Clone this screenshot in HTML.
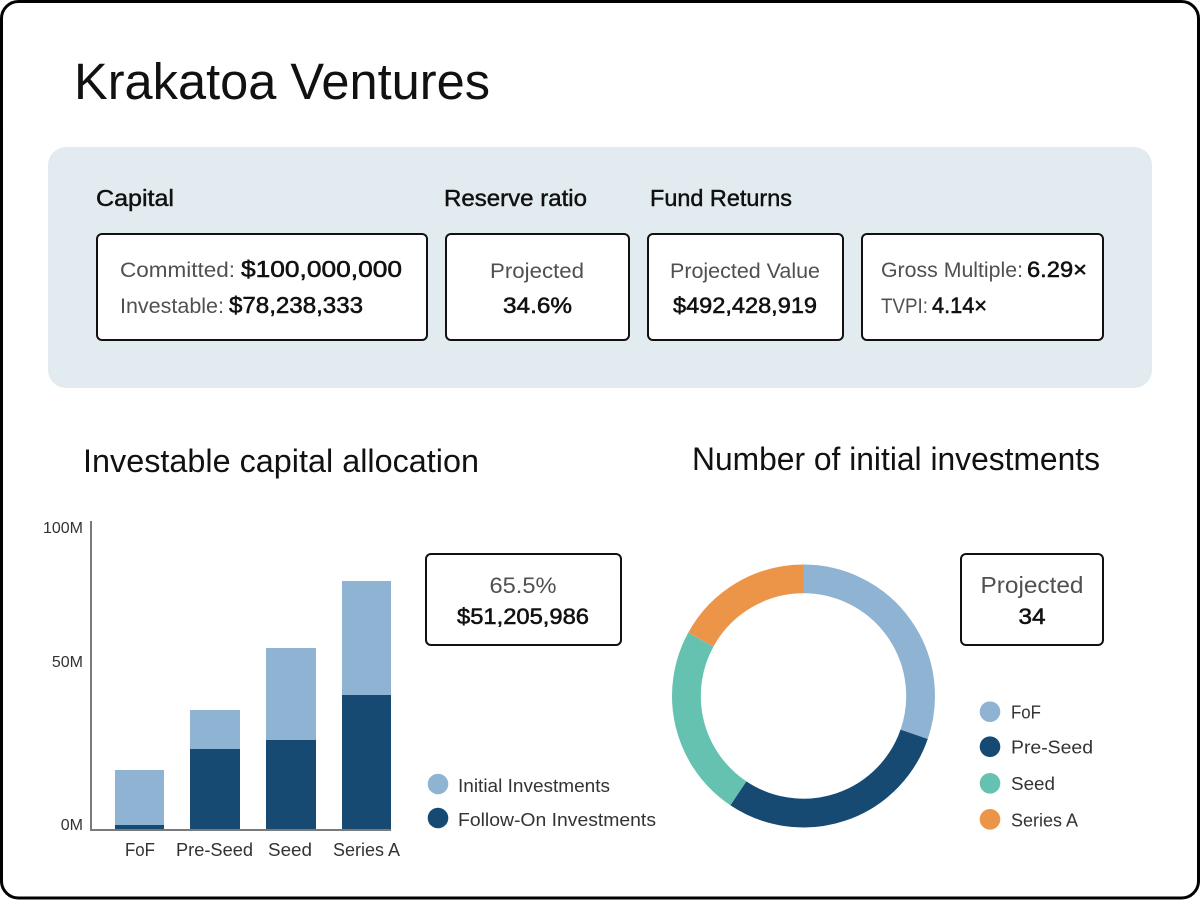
<!DOCTYPE html>
<html>
<head>
<meta charset="utf-8">
<style>
  html, body { margin: 0; padding: 0; background: #ffffff; }
  body { width: 1200px; height: 900px; overflow: hidden; }
  svg { display: block; font-family: "Liberation Sans", "DejaVu Sans", sans-serif; }
  .lbl { fill: #505050; }
  .val { fill: #111111; stroke: #111111; stroke-width: 0.55; }
  .hd { fill: #111111; stroke: #111111; stroke-width: 0.45; }
  .ax { fill: #333333; }
</style>
</head>
<body>
<svg width="1200" height="900" viewBox="0 0 1200 900" xmlns="http://www.w3.org/2000/svg">
  <!-- outer frame -->
  <rect x="1.5" y="1.5" width="1197" height="896.5" rx="17" ry="17" fill="#ffffff" stroke="#000000" stroke-width="3"/>

  <!-- Title -->
  <text x="74" y="99" font-size="51" fill="#111" textLength="416" lengthAdjust="spacingAndGlyphs">Krakatoa Ventures</text>

  <!-- Panel -->
  <rect x="48" y="147" width="1104" height="241" rx="18" ry="18" fill="#e1ebf0"/>

  <!-- Section headings -->
  <text class="hd" x="96" y="206" font-size="23" textLength="78" lengthAdjust="spacingAndGlyphs">Capital</text>
  <text class="hd" x="444" y="206" font-size="23" textLength="143" lengthAdjust="spacingAndGlyphs">Reserve ratio</text>
  <text class="hd" x="650" y="206" font-size="23" textLength="142" lengthAdjust="spacingAndGlyphs">Fund Returns</text>

  <!-- Capital box -->
  <rect x="97" y="234" width="330" height="106" rx="5" ry="5" fill="#ffffff" stroke="#111" stroke-width="2"/>
  <text class="lbl" x="120" y="277" font-size="21" textLength="115" lengthAdjust="spacingAndGlyphs">Committed:</text>
  <text class="val" x="241" y="277" font-size="23" textLength="161" lengthAdjust="spacingAndGlyphs">$100,000,000</text>
  <text class="lbl" x="120" y="313" font-size="21" textLength="104" lengthAdjust="spacingAndGlyphs">Investable:</text>
  <text class="val" x="229" y="313" font-size="23" textLength="134" lengthAdjust="spacingAndGlyphs">$78,238,333</text>

  <!-- Reserve box -->
  <rect x="446" y="234" width="183" height="106" rx="5" ry="5" fill="#ffffff" stroke="#111" stroke-width="2"/>
  <text class="lbl" x="490" y="278" font-size="21" textLength="94" lengthAdjust="spacingAndGlyphs">Projected</text>
  <text class="val" x="503" y="313" font-size="22" textLength="69" lengthAdjust="spacingAndGlyphs">34.6%</text>

  <!-- Fund value box -->
  <rect x="648" y="234" width="195" height="106" rx="5" ry="5" fill="#ffffff" stroke="#111" stroke-width="2"/>
  <text class="lbl" x="670" y="278" font-size="21" textLength="150" lengthAdjust="spacingAndGlyphs">Projected Value</text>
  <text class="val" x="673" y="313" font-size="22" textLength="144" lengthAdjust="spacingAndGlyphs">$492,428,919</text>

  <!-- Gross box -->
  <rect x="862" y="234" width="241" height="106" rx="5" ry="5" fill="#ffffff" stroke="#111" stroke-width="2"/>
  <text class="lbl" x="881" y="277" font-size="21" textLength="142" lengthAdjust="spacingAndGlyphs">Gross Multiple:</text>
  <text class="val" x="1027" y="277" font-size="22" textLength="60" lengthAdjust="spacingAndGlyphs">6.29×</text>
  <text class="lbl" x="881" y="313" font-size="21" textLength="47" lengthAdjust="spacingAndGlyphs">TVPI:</text>
  <text class="val" x="932" y="313" font-size="22" textLength="55" lengthAdjust="spacingAndGlyphs">4.14×</text>

  <!-- Section titles -->
  <text x="83" y="472" font-size="32" fill="#111" textLength="396" lengthAdjust="spacingAndGlyphs">Investable capital allocation</text>
  <text x="692" y="470" font-size="32" fill="#111" textLength="408" lengthAdjust="spacingAndGlyphs">Number of initial investments</text>

  <!-- Bar chart -->
  <text class="ax" x="83" y="533" font-size="16" text-anchor="end">100M</text>
  <text class="ax" x="83" y="667" font-size="16" text-anchor="end">50M</text>
  <text class="ax" x="83" y="830" font-size="16" text-anchor="end">0M</text>

  <!-- FoF -->
  <rect x="115" y="770" width="49" height="60" fill="#8fb4d3"/>
  <rect x="115" y="825" width="49" height="5" fill="#164a72"/>
  <!-- Pre-Seed -->
  <rect x="190" y="710" width="50" height="40" fill="#8fb4d3"/>
  <rect x="190" y="749" width="50" height="81" fill="#164a72"/>
  <!-- Seed -->
  <rect x="266" y="648" width="50" height="93" fill="#8fb4d3"/>
  <rect x="266" y="740" width="50" height="90" fill="#164a72"/>
  <!-- Series A -->
  <rect x="342" y="581" width="49" height="115" fill="#8fb4d3"/>
  <rect x="342" y="695" width="49" height="135" fill="#164a72"/>

  <!-- axes -->
  <line x1="91" y1="521" x2="91" y2="831" stroke="#7a7a7a" stroke-width="2"/>
  <line x1="90" y1="830" x2="391" y2="830" stroke="#7a7a7a" stroke-width="2"/>

  <text class="ax" x="125" y="856" font-size="18" textLength="30" lengthAdjust="spacingAndGlyphs">FoF</text>
  <text class="ax" x="176" y="856" font-size="18" textLength="77" lengthAdjust="spacingAndGlyphs">Pre-Seed</text>
  <text class="ax" x="268" y="856" font-size="18" textLength="44" lengthAdjust="spacingAndGlyphs">Seed</text>
  <text class="ax" x="333" y="856" font-size="18" textLength="67" lengthAdjust="spacingAndGlyphs">Series A</text>

  <!-- 65.5% box -->
  <rect x="426" y="554" width="195" height="91" rx="5" ry="5" fill="#ffffff" stroke="#111" stroke-width="2"/>
  <text class="lbl" x="523" y="593" font-size="22" text-anchor="middle" textLength="67" lengthAdjust="spacingAndGlyphs">65.5%</text>
  <text class="val" x="523" y="624" font-size="22" text-anchor="middle" textLength="132" lengthAdjust="spacingAndGlyphs">$51,205,986</text>

  <!-- bar legend -->
  <circle cx="438" cy="784" r="10.3" fill="#8fb4d3"/>
  <circle cx="438" cy="818" r="10.3" fill="#164a72"/>
  <text class="ax" x="458" y="792" font-size="18" textLength="152" lengthAdjust="spacingAndGlyphs">Initial Investments</text>
  <text class="ax" x="458" y="826" font-size="18" textLength="198" lengthAdjust="spacingAndGlyphs">Follow-On Investments</text>

  <!-- Donut (explicit arcs) -->
  <g fill="none" stroke-width="28.8" stroke-linecap="butt">
    <path d="M 803.5 578.9 A 117.1 117.1 0 0 1 914.15 734.31" stroke="#8fb4d3"/>
    <path d="M 914.15 734.31 A 117.1 117.1 0 0 1 738.36 793.31" stroke="#164a72"/>
    <path d="M 738.36 793.31 A 117.1 117.1 0 0 1 700.89 639.58" stroke="#66c2b0"/>
    <path d="M 700.89 639.58 A 117.1 117.1 0 0 1 803.5 578.9" stroke="#ec9549"/>
  </g>

  <!-- Projected box -->
  <rect x="961" y="554" width="142" height="91" rx="5" ry="5" fill="#ffffff" stroke="#111" stroke-width="2"/>
  <text class="lbl" x="1032" y="593" font-size="23" text-anchor="middle" textLength="103" lengthAdjust="spacingAndGlyphs">Projected</text>
  <text class="val" x="1032" y="624" font-size="22" text-anchor="middle" textLength="27" lengthAdjust="spacingAndGlyphs">34</text>

  <!-- donut legend -->
  <circle cx="990" cy="711.7" r="10.3" fill="#8fb4d3"/>
  <circle cx="990" cy="746.7" r="10.3" fill="#164a72"/>
  <circle cx="990" cy="783.3" r="10.3" fill="#66c2b0"/>
  <circle cx="990" cy="819.3" r="10.3" fill="#ec9549"/>
  <text class="ax" x="1011" y="718.5" font-size="18" textLength="30" lengthAdjust="spacingAndGlyphs">FoF</text>
  <text class="ax" x="1011" y="753.5" font-size="18" textLength="82" lengthAdjust="spacingAndGlyphs">Pre-Seed</text>
  <text class="ax" x="1011" y="790" font-size="18" textLength="44" lengthAdjust="spacingAndGlyphs">Seed</text>
  <text class="ax" x="1011" y="826.5" font-size="18" textLength="67" lengthAdjust="spacingAndGlyphs">Series A</text>
</svg>
</body>
</html>
